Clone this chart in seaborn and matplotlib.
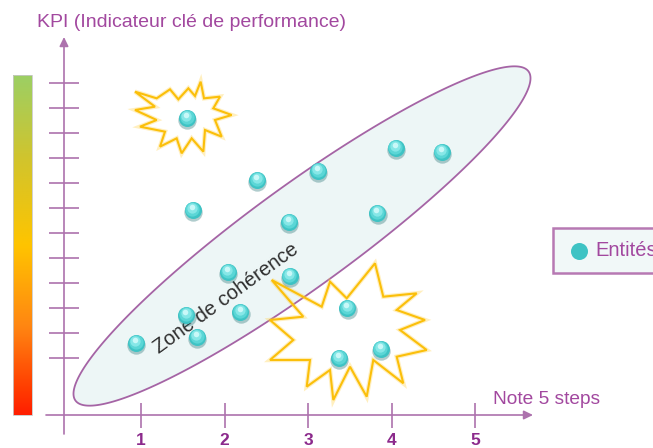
import numpy as np
import matplotlib
matplotlib.use("Agg")
import matplotlib.pyplot as plt
import seaborn as sns
import pandas as pd
from matplotlib.patches import Polygon
from matplotlib.transforms import ScaledTranslation
from matplotlib.colors import LinearSegmentedColormap

# --- data -------------------------------------------------------------
note = [1.55, 1.62, 2.39, 3.12, 4.05, 4.60, 2.77, 3.83, 2.04, 2.78,
        1.54, 2.19, 1.67, 0.94, 3.47, 3.37, 3.87]
kpi = [10.60, 6.92, 8.12, 8.48, 9.40, 9.24, 6.44, 6.80, 4.44, 4.28,
       2.72, 2.84, 1.84, 1.60, 3.00, 1.00, 1.36]
x_ticks = [1, 2, 3, 4, 5]
x_tick_labels = ["1", "2", "3", "4", "5"]
y_ticks = list(range(1, 13))
series_label = "Entités"
x_title = "Note 5 steps"
y_title = "KPI (Indicateur clé de performance)"
zone_label = "Zone de cohérence"

df = pd.DataFrame({"note": note, "kpi": kpi})

sns.set_theme(style="white")
plt.rcParams["font.family"] = ["Liberation Sans", "DejaVu Sans"]

W, H = 653, 448
fig = plt.figure(figsize=(W / 100, H / 100), dpi=100)
ax = fig.add_axes([0, 0, 1, 1])

# scale: 83.5 px per note unit, 25 px per KPI unit
PX_X, PX_Y = 83.5, 25.0
X1_PX, Y0_PX = 141.0, 383.0


def to_data(px, py):
    px = np.asarray(px, float)
    py = np.asarray(py, float)
    return 1 + (px - X1_PX) / PX_X, (Y0_PX - py) / PX_Y


x_lo, y_hi = to_data(0, 0)
x_hi, y_lo = to_data(W, H)
ax.set_xlim(x_lo, x_hi)
ax.set_ylim(y_lo, y_hi)
ax.axis("off")

AXIS = "#ad72ad"
PURPLE_TXT = "#a2489f"

# --- colour scale bar on the left --------------------------------------
cmap = LinearSegmentedColormap.from_list(
    "kpi_scale",
    [(0.0, "#ff1e00"), (0.07, "#ff3a00"), (0.26, "#ff8612"),
     (0.50, "#ffc400"), (0.75, "#d2c42c"), (1.0, "#9ccf64")])
bx0, by0 = to_data(13, 415)
bx1, by1 = to_data(32, 75)
grad = np.linspace(0, 1, 256).reshape(-1, 1)
ax.imshow(grad, cmap=cmap, origin="lower", aspect="auto",
          extent=(bx0, bx1, by0, by1), zorder=1)
ax.add_patch(plt.Rectangle((bx0, by0), bx1 - bx0, by1 - by0, fill=False,
                           edgecolor="#c8c8c8", lw=0.6, zorder=2))

# --- axes with arrows ---------------------------------------------------
yax_x, _ = to_data(64, 0)
_, xax_y = to_data(0, 415)
_, yax_bot = to_data(0, 434)
_, yax_top = to_data(0, 37)
xax_left, _ = to_data(46, 0)
xax_right, _ = to_data(533, 0)

ax.annotate("", xy=(yax_x, yax_top), xytext=(yax_x, yax_bot),
            arrowprops=dict(arrowstyle="-|>,head_length=0.45,head_width=0.22",
                            color=AXIS, lw=1.2, shrinkA=0, shrinkB=0), zorder=3)
ax.annotate("", xy=(xax_right, xax_y), xytext=(xax_left, xax_y),
            arrowprops=dict(arrowstyle="-|>,head_length=0.45,head_width=0.22",
                            color=AXIS, lw=1.2, shrinkA=0, shrinkB=0), zorder=3)

tick_half_w = 15 / PX_X
for yt in y_ticks:
    ax.plot([yax_x - tick_half_w, yax_x + tick_half_w], [yt, yt],
            color=AXIS, lw=1.2, solid_capstyle="butt", zorder=3)
tick_half_h = 12.5 / PX_Y
for xt, lab in zip(x_ticks, x_tick_labels):
    ax.plot([xt, xt], [xax_y - tick_half_h, xax_y + tick_half_h],
            color=AXIS, lw=1.2, solid_capstyle="butt", zorder=3)
    ax.text(xt, to_data(0, 440)[1], lab, ha="center", va="center",
            fontsize=12.5, fontweight="bold", color="#8c2a8c", zorder=4)

tx, ty = to_data(493, 399)
ax.text(tx, ty, x_title, ha="left", va="center", fontsize=13.8,
        color=PURPLE_TXT, zorder=4)
tx, ty = to_data(37, 22)
ax.text(tx, ty, y_title, ha="left", va="center", fontsize=14,
        color=PURPLE_TXT, zorder=4)

# --- coherence zone (rotated ellipse) -----------------------------------
t = np.linspace(0, 2 * np.pi, 400)
a_px, b_px, ang = 280.0, 51.0, np.deg2rad(36)
ex = 302 + a_px * np.cos(t) * np.cos(ang) - b_px * np.sin(t) * np.sin(ang)
ey = 236 - (a_px * np.cos(t) * np.sin(ang) + b_px * np.sin(t) * np.cos(ang))
exd, eyd = to_data(ex, ey)
ax.add_patch(Polygon(np.column_stack([exd, eyd]), closed=True,
                     facecolor="#edf6f6", edgecolor="#a564a5", lw=1.3,
                     zorder=2))
zx, zy = to_data(226, 298)
ax.text(zx, zy, zone_label, rotation=36, rotation_mode="anchor",
        ha="center", va="center", fontsize=14.5, color="#2e2e2e", zorder=4)

# --- warning bursts -----------------------------------------------------
burst_top = [(45, 65), (110, 85), (150, 58), (175, 88), (205, 55), (225, 78),
             (242, 35), (252, 85), (300, 80), (280, 115), (335, 135),
             (285, 150), (305, 200), (255, 180), (250, 245), (215, 205),
             (185, 250), (170, 205), (120, 230), (135, 185), (60, 170),
             (110, 150), (45, 120), (105, 110)]
burst_top = [(120 + u / 3, 70 + v / 3) for u, v in burst_top]
burst_low = [(271.7, 280), (321.7, 306.7), (330, 281.7), (346.7, 298.3),
             (375, 263.3), (383.3, 296.7), (416.7, 293.3), (396.7, 310),
             (425, 320), (400, 330), (426.7, 350), (396.7, 356.7),
             (403.3, 383.3), (373.3, 360), (366.7, 396.7), (350, 366.7),
             (333.3, 400), (330, 370), (306.7, 386.7), (310, 360),
             (270, 360), (293.3, 340), (270, 320), (303.3, 316.7)]
for pts in (burst_top, burst_low):
    bx, by = to_data([p[0] for p in pts], [p[1] for p in pts])
    verts = np.column_stack([bx, by])
    ax.add_patch(Polygon(verts, closed=True, fill=False, edgecolor="#ffd24a",
                         lw=3.2, alpha=0.35, joinstyle="miter", zorder=3))
    ax.add_patch(Polygon(verts, closed=True, fill=False, edgecolor="#fbbf0a",
                         lw=1.5, joinstyle="miter", zorder=3))

# --- entities (shaded spheres) ------------------------------------------
pt = 1 / 72


def shift(dx, dy):
    return ax.transData + ScaledTranslation(dx * pt, dy * pt, fig.dpi_scale_trans)


sns.scatterplot(data=df, x="note", y="kpi", ax=ax, s=175, color="#1f6f70",
                alpha=0.35, linewidth=0, transform=shift(0.3, -1.3),
                legend=False, zorder=5)
sns.scatterplot(data=df, x="note", y="kpi", ax=ax, s=150, color="#3ec3c4",
                linewidth=0, label=series_label, zorder=6)
sns.scatterplot(data=df, x="note", y="kpi", ax=ax, s=105, color="#5bd6d6",
                linewidth=0, transform=shift(-0.2, 0.6), legend=False,
                zorder=7)
sns.scatterplot(data=df, x="note", y="kpi", ax=ax, s=55, color="#86e7e7",
                linewidth=0, transform=shift(-0.4, 1.3), legend=False,
                zorder=8)
sns.scatterplot(data=df, x="note", y="kpi", ax=ax, s=16, color="#c9f8f8",
                linewidth=0, transform=shift(-0.6, 2.2), legend=False,
                zorder=9)

leg = ax.legend(loc="center left", bbox_to_anchor=(553 / W, 1 - 250.5 / H),
                bbox_transform=fig.transFigure, borderaxespad=0,
                frameon=True, fancybox=False, fontsize=14.5, borderpad=0.65,
                handlelength=1.3, handletextpad=0.15, markerscale=1.0)
frame = leg.get_frame()
frame.set_edgecolor("#b779b3")
frame.set_facecolor("#f1f8f8")
frame.set_linewidth(1.8)
frame.set_alpha(1)
for txt in leg.get_texts():
    txt.set_color(PURPLE_TXT)

fig.savefig("out.png", dpi=100)
